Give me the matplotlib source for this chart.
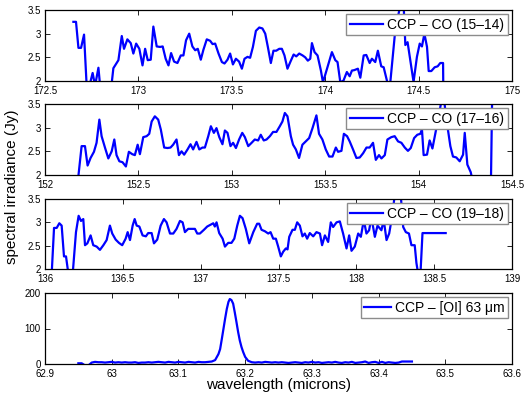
import matplotlib
matplotlib.use('Agg')
import matplotlib.pyplot as plt
from matplotlib.ticker import FuncFormatter

plt.rcParams['font.family'] = ['Liberation Sans', 'DejaVu Sans']

# --- CO (15-14) ---
wl_co15 = [172.652, 172.666, 172.679, 172.693, 172.709, 172.723, 172.738, 172.755, 172.768,
           172.786, 172.795, 172.81, 172.83, 172.857, 172.866, 172.893, 172.911, 172.923,
           172.941, 172.959, 172.973, 172.988, 173.005, 173.022, 173.036, 173.05, 173.066,
           173.080, 173.098, 173.116, 173.13, 173.146, 173.161, 173.175, 173.191, 173.209,
           173.227, 173.241, 173.255, 173.272, 173.289, 173.304, 173.318, 173.334, 173.348,
           173.366, 173.384, 173.397, 173.411, 173.429, 173.447, 173.461, 173.477, 173.491,
           173.506, 173.522, 173.539, 173.554, 173.568, 173.584, 173.598, 173.613, 173.629,
           173.647, 173.664, 173.679, 173.693, 173.709, 173.723, 173.738, 173.754, 173.768,
           173.782, 173.798, 173.813, 173.831, 173.845, 173.861, 173.879, 173.893, 173.907,
           173.920, 173.929, 173.943, 173.959, 173.977, 173.988, 174.013, 174.036, 174.054,
           174.066, 174.081, 174.098, 174.116, 174.131, 174.143, 174.156, 174.175, 174.188,
           174.206, 174.22, 174.238, 174.25, 174.268, 174.282, 174.30, 174.313, 174.334,
           174.348, 174.375, 174.393, 174.407, 174.42, 174.429, 174.441, 174.473, 174.491,
           174.506, 174.518, 174.531, 174.545, 174.554, 174.568, 174.586, 174.602, 174.616,
           174.631, 174.633]
fx_co15 = [3.25, 3.25, 2.70, 2.70, 2.98, 1.9, 1.9, 2.17, 1.9,
           2.28, 1.9, 1.9, 1.9, 1.95, 2.27, 2.44, 2.95, 2.68,
           2.88, 2.80, 2.58, 2.79, 2.68, 2.33, 2.68, 2.44, 2.45,
           3.15, 2.73, 2.72, 2.73, 2.47, 2.33, 2.59, 2.41, 2.38,
           2.54, 2.54, 2.86, 3.0, 2.73, 2.65, 2.68, 2.45, 2.66,
           2.88, 2.85, 2.78, 2.79, 2.58, 2.40, 2.37, 2.45, 2.58,
           2.35, 2.47, 2.41, 2.26, 2.47, 2.51, 2.49, 2.72, 3.06,
           3.13, 3.11, 3.0, 2.72, 2.38, 2.64, 2.64, 2.68, 2.68,
           2.54, 2.26, 2.40, 2.56, 2.52, 2.58, 2.54, 2.50, 2.43,
           2.47, 2.80, 2.61, 2.54, 2.22, 1.97, 2.30, 2.61, 2.44,
           2.40, 1.97, 2.01, 2.19, 2.10, 2.22, 2.23, 2.26, 2.07,
           2.54, 2.55, 2.38, 2.47, 2.40, 2.64, 2.31, 2.29, 1.95,
           1.95, 3.07, 3.43, 3.7, 3.6, 2.76, 2.82, 1.98, 2.51,
           2.79, 2.73, 3.0, 2.72, 2.21, 2.21, 2.29, 2.31, 2.38,
           2.38, 1.5]

# --- CO (17-16) ---
wl_co17 = [152.178, 152.196, 152.214, 152.228, 152.244, 152.262, 152.276, 152.291, 152.303,
           152.321, 152.339, 152.357, 152.371, 152.383, 152.398, 152.415, 152.433, 152.449,
           152.467, 152.481, 152.496, 152.508, 152.526, 152.544, 152.558, 152.571, 152.588,
           152.606, 152.62, 152.638, 152.656, 152.672, 152.686, 152.704, 152.717, 152.731,
           152.745, 152.763, 152.779, 152.793, 152.811, 152.826, 152.843, 152.856, 152.874,
           152.888, 152.904, 152.918, 152.933, 152.95, 152.963, 152.977, 152.993, 153.007,
           153.022, 153.039, 153.056, 153.07, 153.088, 153.106, 153.123, 153.141, 153.155,
           153.171, 153.186, 153.204, 153.221, 153.239, 153.257, 153.271, 153.284, 153.298,
           153.316, 153.328, 153.343, 153.36, 153.378, 153.396, 153.414, 153.432, 153.453,
           153.467, 153.485, 153.503, 153.521, 153.539, 153.557, 153.569, 153.587, 153.6,
           153.617, 153.631, 153.649, 153.667, 153.685, 153.703, 153.721, 153.738, 153.756,
           153.771, 153.788, 153.801, 153.819, 153.833, 153.854, 153.872, 153.89, 153.908,
           153.926, 153.943, 153.958, 153.976, 153.993, 154.009, 154.018, 154.027, 154.045,
           154.059, 154.074, 154.086, 154.104, 154.122, 154.136, 154.149, 154.17, 154.184,
           154.202, 154.22, 154.238, 154.247, 154.261, 154.279, 154.288, 154.31, 154.386,
           154.395]
fx_co17 = [1.95, 2.61, 2.61, 2.20, 2.36, 2.49, 2.68, 3.17, 2.82,
           2.58, 2.35, 2.50, 2.75, 2.42, 2.29, 2.27, 2.18, 2.49,
           2.44, 2.42, 2.64, 2.44, 2.80, 2.82, 2.87, 3.13, 3.24,
           3.17, 2.96, 2.58, 2.57, 2.58, 2.64, 2.75, 2.42, 2.50,
           2.43, 2.54, 2.65, 2.54, 2.70, 2.54, 2.58, 2.58, 2.82,
           3.03, 2.89, 2.99, 2.80, 2.65, 2.94, 2.89, 2.61, 2.68,
           2.57, 2.75, 2.89, 2.80, 2.61, 2.68, 2.75, 2.73, 2.85,
           2.73, 2.75, 2.82, 2.91, 2.91, 3.03, 3.13, 3.31, 3.24,
           2.82, 2.64, 2.54, 2.36, 2.64, 2.71, 2.78, 2.99, 3.26,
           2.87, 2.75, 2.54, 2.39, 2.39, 2.58, 2.49, 2.51, 2.87,
           2.82, 2.71, 2.54, 2.36, 2.37, 2.46, 2.58, 2.58, 2.68,
           2.32, 2.42, 2.35, 2.42, 2.75, 2.80, 2.82, 2.71, 2.68,
           2.58, 2.51, 2.57, 2.78, 2.85, 2.87, 2.96, 2.42, 2.43,
           2.73, 2.56, 2.80, 3.17, 3.56, 3.6, 3.17, 2.61, 2.39,
           2.37, 2.29, 2.43, 2.89, 2.22, 2.06, 1.9, 1.5, 1.5,
           4.0]

# --- CO (19-18) ---
wl_co19 = [136.043, 136.058, 136.075, 136.092, 136.107, 136.122, 136.135, 136.15, 136.178,
           136.199, 136.216, 136.231, 136.246, 136.257, 136.272, 136.293, 136.31, 136.332,
           136.353, 136.375, 136.396, 136.417, 136.432, 136.454, 136.475, 136.496, 136.518,
           136.531, 136.546, 136.563, 136.576, 136.589, 136.606, 136.627, 136.648, 136.663,
           136.685, 136.70, 136.721, 136.743, 136.764, 136.781, 136.803, 136.824, 136.845,
           136.867, 136.884, 136.899, 136.92, 136.942, 136.963, 136.978, 136.995, 137.021,
           137.042, 137.064, 137.081, 137.091, 137.102, 137.119, 137.141, 137.156, 137.177,
           137.198, 137.216, 137.235, 137.252, 137.269, 137.29, 137.312, 137.338, 137.363,
           137.376, 137.391, 137.412, 137.434, 137.449, 137.466, 137.483, 137.498, 137.515,
           137.53, 137.547, 137.558, 137.569, 137.59, 137.605, 137.62, 137.637, 137.654,
           137.669, 137.684, 137.701, 137.723, 137.744, 137.766, 137.78, 137.798, 137.819,
           137.836, 137.851, 137.873, 137.894, 137.915, 137.937, 137.954, 137.969, 137.99,
           138.012, 138.029, 138.048, 138.065, 138.082, 138.097, 138.119, 138.136, 138.161,
           138.176, 138.194, 138.211, 138.232, 138.247, 138.268, 138.285, 138.301, 138.318,
           138.338, 138.354, 138.375, 138.386, 138.397, 138.412, 138.425, 138.49, 138.574]
fx_co19 = [1.9, 2.88, 2.88, 2.98, 2.93, 2.27, 2.27, 1.9, 1.9,
           2.79, 3.14, 3.03, 3.07, 2.51, 2.55, 2.72, 2.51, 2.48,
           2.41, 2.51, 2.62, 2.93, 2.76, 2.63, 2.56, 2.51, 2.65,
           2.79, 2.62, 2.93, 3.07, 2.93, 2.91, 2.72, 2.70, 2.77,
           2.77, 2.55, 2.63, 2.93, 3.07, 3.0, 2.76, 2.76, 2.86,
           3.03, 3.0, 2.79, 2.86, 2.86, 2.86, 2.76, 2.76, 2.84,
           2.91, 2.95, 2.98, 2.91, 3.0, 2.77, 2.65, 2.48, 2.56,
           2.56, 2.65, 2.93, 3.14, 3.09, 2.86, 2.55, 2.79, 2.97,
           2.97, 2.84, 2.81, 2.76, 2.79, 2.65, 2.65, 2.48, 2.27,
           2.37, 2.44, 2.42, 2.69, 2.84, 2.84, 3.0, 2.93, 2.70,
           2.76, 2.65, 2.77, 2.70, 2.79, 2.76, 2.51, 2.72, 2.58,
           3.0, 2.90, 3.0, 3.02, 2.76, 2.44, 2.72, 2.39, 2.48,
           2.76, 2.69, 3.05, 2.76, 2.83, 3.1, 2.69, 2.93, 2.83,
           3.05, 2.62, 2.76, 3.17, 3.6, 3.7, 3.6, 2.90, 2.79,
           2.76, 2.51, 2.51, 2.13, 1.9, 1.9, 2.77, 2.77, 2.77]

# --- [OI] 63 micron ---
wl_oi = [62.950, 62.955, 62.960, 62.965, 62.970, 62.975, 62.980, 62.985, 62.990, 62.995,
         63.000, 63.005, 63.010, 63.015, 63.020, 63.025, 63.030, 63.035, 63.040, 63.045,
         63.050, 63.055, 63.060, 63.065, 63.070, 63.075, 63.080, 63.085, 63.090, 63.095,
         63.100, 63.105, 63.110, 63.115, 63.120, 63.125, 63.130, 63.135, 63.140, 63.145,
         63.150, 63.155, 63.160, 63.1625, 63.165, 63.1675, 63.170, 63.1725, 63.175, 63.177,
         63.1795, 63.182, 63.1845, 63.187, 63.1895, 63.192, 63.1945, 63.197, 63.200, 63.2045,
         63.210, 63.215, 63.220, 63.225, 63.230, 63.235, 63.240, 63.245, 63.250, 63.255,
         63.260, 63.265, 63.270, 63.275, 63.280, 63.285, 63.290, 63.295, 63.300, 63.305,
         63.310, 63.315, 63.320, 63.325, 63.330, 63.335, 63.340, 63.345, 63.350, 63.355,
         63.360, 63.365, 63.370, 63.375, 63.380, 63.385, 63.390, 63.395, 63.400, 63.405,
         63.410, 63.415, 63.420, 63.425, 63.430, 63.435, 63.440, 63.445, 63.450]
fx_oi = [2, 2, -4, -4, 4, 6, 5, 5, 4, 5,
         6, 4, 5, 4, 5, 4, 4, 5, 3, 4,
         4, 5, 4, 5, 6, 5, 4, 6, 5, 4,
         6, 5, 4, 6, 5, 4, 6, 5, 5, 6,
         7, 11, 28, 42, 70, 99, 128, 155, 175, 183,
         180, 170, 145, 118, 90, 66, 48, 34, 20, 9,
         5, 4, 5, 4, 6, 5, 4, 5, 4, 5,
         4, 3, 4, 5, 4, 3, 5, 4, 6, 4,
         5, 3, 4, 5, 4, 6, 4, 3, 5, 4,
         6, 3, 4, 5, 7, 3, 5, 6, 3, 6,
         3, 5, 4, 3, 4, 7, 7, 7, 7]

panels = [
    (wl_co15, fx_co15, (172.5, 175), (2, 3.5), [172.5, 173, 173.5, 174, 174.5, 175], [2, 2.5, 3, 3.5],
     'CCP \u2013 CO (15\u201314)', 2.4),
    (wl_co17, fx_co17, (152, 154.5), (2, 3.5), [152, 152.5, 153, 153.5, 154, 154.5], [2, 2.5, 3, 3.5],
     'CCP \u2013 CO (17\u201316)', 2.4),
    (wl_co19, fx_co19, (136, 139), (2, 3.5), [136, 136.5, 137, 137.5, 138, 138.5, 139], [2, 2.5, 3, 3.5],
     'CCP \u2013 CO (19\u201318)', 2.4),
    (wl_oi, fx_oi, (62.9, 63.6), (0, 200), [62.9, 63, 63.1, 63.2, 63.3, 63.4, 63.5, 63.6], [0, 100, 200],
     'CCP \u2013 [OI] 63 \u03bcm', 1.9),
]

W, H = 528, 403
fig = plt.figure(figsize=(W / 100, H / 100), dpi=100)
rows = [(10, 81), (104, 175), (199, 269), (293, 364)]
fmt = FuncFormatter(lambda v, p: ('%.1f' % v).rstrip('0').rstrip('.'))

for (x, y, xl, yl, xt, yt, lab, hl), (top, bot) in zip(panels, rows):
    ax = fig.add_axes([45 / W, 1 - bot / H, 467 / W, (bot - top) / H])
    ax.plot(x, y, color='#0000ff', lw=1.6, label=lab)
    ax.set_xlim(*xl)
    ax.set_ylim(*yl)
    ax.set_xticks(xt)
    ax.set_yticks(yt)
    ax.xaxis.set_major_formatter(fmt)
    ax.yaxis.set_major_formatter(fmt)
    ax.tick_params(direction='in', top=True, right=True, length=3.5, width=0.6,
                   labelsize=7)
    ax.tick_params(axis='x', pad=3.5)
    ax.tick_params(axis='y', pad=3)
    for s in ax.spines.values():
        s.set_linewidth(0.9)
    leg = ax.legend(loc='upper right', fontsize=10, fancybox=False, framealpha=1,
                    edgecolor='#8c8c8c', borderaxespad=0.3, borderpad=0.25,
                    handlelength=hl, handletextpad=0.3)
    leg.get_frame().set_linewidth(1.0)

fig.text(0.022, 1 - 187 / H, 'spectral irradiance (Jy)', rotation=90, fontsize=11,
         ha='center', va='center')
fig.text((45 + 467 / 2) / W, 1 - 385 / H, 'wavelength (microns)', fontsize=11,
         ha='center', va='center')

fig.savefig('out.png', dpi=100)
